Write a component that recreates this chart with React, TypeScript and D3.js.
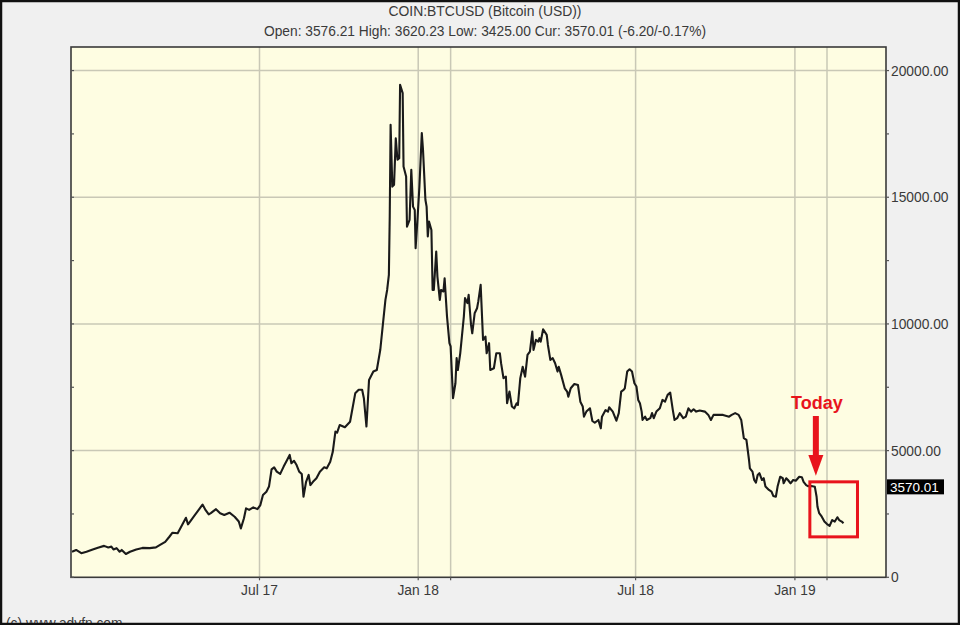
import React from "react";
import * as d3 from "d3";

// BTCUSD closes
const prices: [string, number][] = [
  ["2017-01-01", 1010], ["2017-01-05", 1080], ["2017-01-10", 950], ["2017-01-15", 1010],
  ["2017-01-21", 1100], ["2017-01-26", 1170], ["2017-02-01", 1240], ["2017-02-05", 1180],
  ["2017-02-08", 1210], ["2017-02-10", 1100], ["2017-02-13", 1150], ["2017-02-16", 1010],
  ["2017-02-18", 1080], ["2017-02-22", 920], ["2017-02-26", 1010], ["2017-03-04", 1100],
  ["2017-03-10", 1160], ["2017-03-17", 1150], ["2017-03-23", 1180], ["2017-03-27", 1280],
  ["2017-04-01", 1400], ["2017-04-05", 1600], ["2017-04-08", 1760], ["2017-04-13", 1740],
  ["2017-04-16", 1970], ["2017-04-21", 2350], ["2017-04-23", 2090], ["2017-04-25", 2200],
  ["2017-04-29", 2420], ["2017-05-04", 2700], ["2017-05-07", 2870], ["2017-05-10", 2650],
  ["2017-05-13", 2480], ["2017-05-15", 2530], ["2017-05-20", 2690], ["2017-05-24", 2530],
  ["2017-05-28", 2460], ["2017-06-02", 2550], ["2017-06-07", 2390], ["2017-06-11", 2200],
  ["2017-06-13", 1930], ["2017-06-16", 2330], ["2017-06-18", 2720], ["2017-06-21", 2660],
  ["2017-06-25", 2760], ["2017-06-29", 2690], ["2017-07-02", 2850], ["2017-07-05", 3250],
  ["2017-07-09", 3380], ["2017-07-12", 3580], ["2017-07-15", 4260], ["2017-07-18", 4340],
  ["2017-07-21", 4170], ["2017-07-25", 4080], ["2017-07-29", 4370], ["2017-08-02", 4630],
  ["2017-08-05", 4830], ["2017-08-07", 4500], ["2017-08-10", 4600], ["2017-08-13", 4430],
  ["2017-08-16", 4170], ["2017-08-19", 4080], ["2017-08-21", 3180], ["2017-08-24", 3770],
  ["2017-08-27", 4040], ["2017-08-29", 3640], ["2017-09-01", 3770], ["2017-09-05", 3910],
  ["2017-09-09", 4170], ["2017-09-14", 4340], ["2017-09-17", 4300], ["2017-09-21", 4560],
  ["2017-09-24", 4960], ["2017-09-27", 5750], ["2017-09-29", 5710], ["2017-10-02", 6010],
  ["2017-10-08", 5920], ["2017-10-14", 6140], ["2017-10-20", 7260], ["2017-10-24", 7400],
  ["2017-10-28", 7400], ["2017-10-30", 7070], ["2017-11-02", 5950], ["2017-11-05", 7790],
  ["2017-11-10", 8120], ["2017-11-14", 8180], ["2017-11-18", 8970], ["2017-11-21", 9960],
  ["2017-11-24", 10950], ["2017-11-26", 11340], ["2017-11-28", 11940], ["2017-11-29", 14240],
  ["2017-11-30", 17860], ["2017-12-02", 15420], ["2017-12-04", 15490], ["2017-12-06", 17330],
  ["2017-12-08", 16480], ["2017-12-10", 16540], ["2017-12-11", 19440], ["2017-12-14", 19110],
  ["2017-12-15", 16210], ["2017-12-18", 15820], ["2017-12-19", 13840], ["2017-12-22", 14110],
  ["2017-12-24", 16080], ["2017-12-26", 14630], ["2017-12-28", 14500], ["2017-12-29", 12990],
  ["2017-12-31", 14040], ["2018-01-02", 15420], ["2018-01-04", 17530], ["2018-01-05", 16870],
  ["2018-01-07", 14900], ["2018-01-08", 14630], ["2018-01-09", 13450], ["2018-01-10", 14040],
  ["2018-01-12", 13710], ["2018-01-13", 11340], ["2018-01-14", 11340], ["2018-01-16", 12860],
  ["2018-01-17", 11870], ["2018-01-19", 10950], ["2018-01-20", 11340], ["2018-01-22", 11280],
  ["2018-01-23", 11800], ["2018-01-25", 10290], ["2018-01-27", 9240], ["2018-01-28", 9110],
  ["2018-01-30", 7070], ["2018-02-01", 7660], ["2018-02-02", 8650], ["2018-02-03", 8180],
  ["2018-02-05", 8840], ["2018-02-08", 10290], ["2018-02-09", 11020], ["2018-02-11", 10820],
  ["2018-02-12", 11150], ["2018-02-14", 9960], ["2018-02-15", 9630], ["2018-02-17", 10420],
  ["2018-02-19", 10620], ["2018-02-20", 10880], ["2018-02-22", 11540], ["2018-02-24", 9370],
  ["2018-02-26", 9500], ["2018-02-27", 8840], ["2018-03-01", 9240], ["2018-03-02", 8180],
  ["2018-03-05", 8250], ["2018-03-07", 8840], ["2018-03-10", 8840], ["2018-03-11", 8450],
  ["2018-03-13", 7860], ["2018-03-15", 7920], ["2018-03-16", 6870], ["2018-03-18", 7330],
  ["2018-03-20", 6740], ["2018-03-22", 6670], ["2018-03-24", 6870], ["2018-03-25", 6800],
  ["2018-03-27", 7860], ["2018-03-29", 8310], ["2018-03-31", 7920], ["2018-04-02", 8780],
  ["2018-04-04", 8910], ["2018-04-06", 9700], ["2018-04-07", 8970], ["2018-04-09", 9370],
  ["2018-04-11", 9300], ["2018-04-12", 9440], ["2018-04-13", 9300], ["2018-04-15", 9790],
  ["2018-04-18", 9570], ["2018-04-19", 9170], ["2018-04-21", 8580], ["2018-04-23", 8650],
  ["2018-04-25", 8450], ["2018-04-27", 8120], ["2018-04-28", 8310], ["2018-04-30", 7990],
  ["2018-05-03", 7460], ["2018-05-05", 7330], ["2018-05-06", 7130], ["2018-05-08", 7460],
  ["2018-05-11", 7630], ["2018-05-14", 7590], ["2018-05-16", 6930], ["2018-05-18", 6740],
  ["2018-05-19", 6340], ["2018-05-21", 6540], ["2018-05-24", 6670], ["2018-05-26", 6170],
  ["2018-05-28", 6100], ["2018-05-31", 6210], ["2018-06-02", 5880], ["2018-06-03", 6340],
  ["2018-06-06", 6600], ["2018-06-08", 6540], ["2018-06-09", 6710], ["2018-06-12", 6540],
  ["2018-06-15", 6180], ["2018-06-17", 6480], ["2018-06-19", 7330], ["2018-06-21", 7400],
  ["2018-06-22", 7460], ["2018-06-24", 8120], ["2018-06-26", 8210], ["2018-06-28", 8120],
  ["2018-06-30", 7660], ["2018-07-02", 7530], ["2018-07-04", 7000], ["2018-07-06", 6870],
  ["2018-07-08", 6540], ["2018-07-09", 6210], ["2018-07-12", 6340], ["2018-07-14", 6210],
  ["2018-07-18", 6280], ["2018-07-20", 6480], ["2018-07-22", 6280], ["2018-07-25", 6540],
  ["2018-07-29", 6670], ["2018-08-01", 7000], ["2018-08-04", 6930], ["2018-08-07", 7200],
  ["2018-08-10", 7290], ["2018-08-13", 6600], ["2018-08-15", 6210], ["2018-08-18", 6280],
  ["2018-08-21", 6480], ["2018-08-25", 6280], ["2018-08-28", 6340], ["2018-08-31", 6670],
  ["2018-09-03", 6540], ["2018-09-06", 6630], ["2018-09-09", 6540], ["2018-09-13", 6580],
  ["2018-09-19", 6540], ["2018-09-23", 6410], ["2018-09-26", 6210], ["2018-09-29", 6410],
  ["2018-10-05", 6410], ["2018-10-10", 6410], ["2018-10-14", 6370], ["2018-10-17", 6340],
  ["2018-10-20", 6410], ["2018-10-24", 6480], ["2018-10-28", 6410], ["2018-10-31", 6210],
  ["2018-11-03", 5490], ["2018-11-06", 5420], ["2018-11-09", 4630], ["2018-11-10", 4300],
  ["2018-11-13", 4170], ["2018-11-15", 3840], ["2018-11-17", 3740], ["2018-11-19", 4040],
  ["2018-11-21", 4110], ["2018-11-24", 3840], ["2018-11-26", 3910], ["2018-11-28", 3580],
  ["2018-12-02", 3450], ["2018-12-05", 3380], ["2018-12-07", 3210], ["2018-12-10", 3180],
  ["2018-12-12", 3580], ["2018-12-15", 3970], ["2018-12-18", 3910], ["2018-12-19", 3710],
  ["2018-12-22", 3910], ["2018-12-24", 3840], ["2018-12-27", 3710], ["2018-12-30", 3840],
  ["2019-01-02", 3810], ["2019-01-06", 3970], ["2019-01-09", 3950], ["2019-01-11", 3770],
  ["2019-01-14", 3640], ["2019-01-16", 3600], ["2019-01-20", 3600], ["2019-01-24", 3570],
  ["2019-01-26", 3180], ["2019-01-27", 2790], ["2019-01-29", 2530], ["2019-02-01", 2390],
  ["2019-02-04", 2200], ["2019-02-07", 2100], ["2019-02-10", 2030], ["2019-02-13", 2260],
  ["2019-02-16", 2200], ["2019-02-19", 2370], ["2019-02-21", 2260], ["2019-02-24", 2200],
  ["2019-02-26", 2130],
];

const xLabels: [string, string][] = [
  ["2017-07-01", "Jul 17"],
  ["2018-01-01", "Jan 18"],
  ["2018-07-01", "Jul 18"],
  ["2019-01-01", "Jan 19"],
];
const extraGridDates = ["2018-01-28", "2019-02-07"];
const yTicks = [0, 5000, 10000, 15000, 20000];
const yMinorTicks = [2500, 7500, 12500, 17500];

const title = "COIN:BTCUSD (Bitcoin (USD))";
const subtitle = "Open: 3576.21 High: 3620.23 Low: 3425.00 Cur: 3570.01 (-6.20/-0.17%)";
const currentPrice = 3570.01;
const todayDate = "2019-01-24";

const W = 960;
const H = 625;
const plot = { left: 71, right: 886, top: 47, bottom: 577.3 };
const font = "'Liberation Sans', Arial, sans-serif";
const red = "#e8141c";

const parse = d3.timeParse("%Y-%m-%d");

export default function App() {
  // the source axis is not linear in time, so anchor it at the labelled months
  const x = d3
    .scaleTime()
    .domain(["2017-01-01", "2017-07-01", "2018-01-01", "2018-07-01", "2019-01-01", "2019-04-16"].map((d) => parse(d)!))
    .range([72, 259.5, 418.2, 635.6, 794.9, plot.right]);
  const y = d3.scaleLinear().domain([0, 20930]).range([plot.bottom, plot.top]);

  const series = prices.map(([d, v]) => ({ date: parse(d)!, value: v }));
  const line = d3
    .line<{ date: Date; value: number }>()
    .x((d) => x(d.date))
    .y((d) => y(d.value));

  const gridDates = [...xLabels.map((l) => l[0]), ...extraGridDates].map((d) => parse(d)!);

  const today = series.find((d) => +d.date === +parse(todayDate)!)!;
  const after = series.filter((d) => d.date >= today.date);
  const ax = x(today.date) + 1;
  const ay = y(today.value);
  const boxX0 = ax - 6;
  const boxX1 = x(after[after.length - 1].date) + 14;
  const boxY0 = ay - 5;
  const boxY1 = y(d3.min(after, (d) => d.value)!) + 11;

  return (
    <svg
      width={W}
      height={H}
      style={{ position: "absolute", left: 0, top: 0, display: "block" }}
      fontFamily={font}
    >
      <rect x={0} y={0} width={W} height={H} fill="#f0f0f0" />

      <text x={485} y={16} textAnchor="middle" fontSize={13.8} fill="#3a3a3a" textLength={193} lengthAdjust="spacingAndGlyphs">
        {title}
      </text>
      <text x={485} y={36} textAnchor="middle" fontSize={13.8} fill="#3a3a3a" textLength={442} lengthAdjust="spacingAndGlyphs">
        {subtitle}
      </text>

      <rect x={plot.left} y={plot.top} width={plot.right - plot.left} height={plot.bottom - plot.top} fill="#fefde2" />

      {yTicks.slice(1).map((t) => (
        <line key={"hg" + t} x1={plot.left} x2={plot.right} y1={y(t)} y2={y(t)} stroke="#c9c8b6" strokeWidth={1.5} />
      ))}
      {gridDates.map((d, i) => (
        <line key={"vg" + i} x1={x(d)} x2={x(d)} y1={plot.top} y2={plot.bottom} stroke="#c9c8b6" strokeWidth={1.5} />
      ))}

      <path d={line(series)!} fill="none" stroke="#1a1a1a" strokeWidth={2.1} strokeLinejoin="round" />

      <rect x={plot.left} y={plot.top} width={plot.right - plot.left} height={plot.bottom - plot.top} fill="none" stroke="#3a3a3a" strokeWidth={1.6} />

      {/* axis ticks */}
      {[...yTicks, ...yMinorTicks].map((t) => (
        <g key={"yt" + t}>
          <line x1={plot.right} x2={plot.right + 3} y1={y(t)} y2={y(t)} stroke="#555" strokeWidth={1.2} />
          <line x1={plot.left} x2={plot.left + 3} y1={y(t)} y2={y(t)} stroke="#555" strokeWidth={1.2} />
        </g>
      ))}
      {gridDates.map((d, i) => (
        <line key={"xt" + i} x1={x(d)} x2={x(d)} y1={plot.bottom} y2={plot.bottom + 3} stroke="#555" strokeWidth={1.2} />
      ))}

      {yTicks.map((t) => (
        <text key={"yl" + t} x={891} y={y(t)} dy="0.36em" fontSize={13.8} fill="#3a3a3a">
          {t === 0 ? "0" : t.toFixed(2)}
        </text>
      ))}
      {xLabels.map(([d, label]) => (
        <text key={label} x={x(parse(d)!)} y={595} textAnchor="middle" fontSize={13.8} fill="#3a3a3a">
          {label}
        </text>
      ))}

      <rect x={887} y={y(currentPrice) - 7.5} width={57} height={15} fill="#000" />
      <text x={890} y={y(currentPrice)} dy="0.36em" fontSize={13.5} fill="#fff">
        {currentPrice.toFixed(2)}
      </text>

      {/* annotation */}
      <text x={ax + 1} y={409} textAnchor="middle" fontSize={18} fontWeight="bold" fill={red}>
        Today
      </text>
      <rect x={ax - 3} y={416} width={6} height={40} fill={red} />
      <path d={`M${ax - 7.5},${455} L${ax + 7.5},${455} L${ax},${ay - 11} Z`} fill={red} />
      <rect x={boxX0} y={boxY0} width={boxX1 - boxX0} height={boxY1 - boxY0} fill="none" stroke={red} strokeWidth={3} />

      <text x={6} y={628} fontSize={13.8} fill="#3a3a3a">
        (c) www.advfn.com
      </text>

      <rect x={1} y={1} width={W - 2} height={H - 2} fill="none" stroke="#111" strokeWidth={2.5} />
    </svg>
  );
}
